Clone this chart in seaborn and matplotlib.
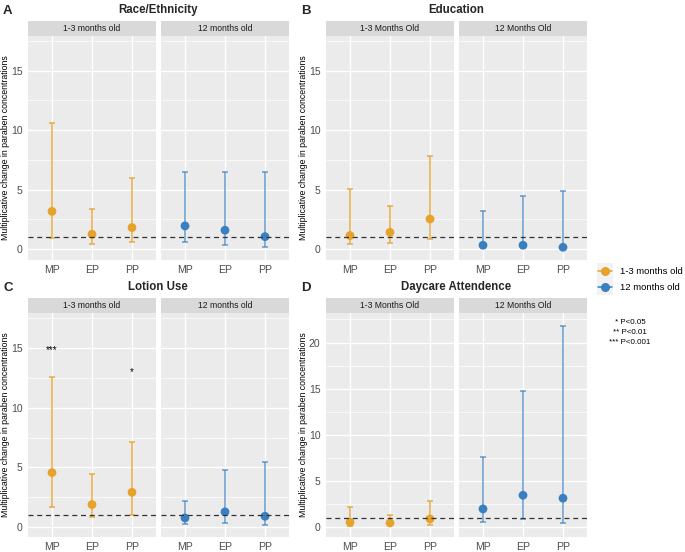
import numpy as np
import pandas as pd
import matplotlib
matplotlib.use("Agg")
import matplotlib.pyplot as plt
import seaborn as sns
from matplotlib.patches import Rectangle
from matplotlib.lines import Line2D

sns.set_theme(style="white")
plt.rcParams['font.family'] = ['Liberation Sans', 'DejaVu Sans']

# ---------------- data ----------------
categories = ["MP", "EP", "PP"]

# Race/Ethnicity
race_young_est = [3.18, 1.26, 1.82]
race_young_lo = [0.95, 0.45, 0.59]
race_young_hi = [10.6, 3.38, 5.95]
race_old_est = [1.96, 1.60, 1.06]
race_old_lo = [0.59, 0.36, 0.20]
race_old_hi = [6.50, 6.50, 6.45]

# Education
edu_young_est = [1.15, 1.42, 2.54]
edu_young_lo = [0.47, 0.53, 0.84]
edu_young_hi = [5.08, 3.66, 7.80]
edu_old_est = [0.34, 0.34, 0.17]
edu_old_lo = [0.10, 0.10, 0.03]
edu_old_hi = [3.21, 4.50, 4.92]

# Lotion use
lot_young_est = [4.55, 1.87, 2.90]
lot_young_lo = [1.68, 0.81, 1.03]
lot_young_hi = [12.54, 4.47, 7.09]
lot_old_est = [0.75, 1.26, 0.89]
lot_old_lo = [0.25, 0.31, 0.14]
lot_old_hi = [2.18, 4.80, 5.45]
lot_young_sig = ["***", "", "*"]
lot_young_sig_y = [14.8, 0, 13.0]

# Daycare attendance
day_young_est = [0.54, 0.47, 0.90]
day_young_lo = [0.14, 0.20, 0.25]
day_young_hi = [2.17, 1.34, 2.82]
day_old_est = [1.99, 3.47, 3.15]
day_old_lo = [0.54, 0.87, 0.43]
day_old_hi = [7.56, 14.8, 21.77]

age_labels = ["1-3 months old", "12 months old"]
facet_lower = ["1-3 months old", "12 months old"]
facet_upper = ["1-3 Months Old", "12 Months Old"]
pvalue_lines = ["* P<0.05", "** P<0.01", "*** P<0.001"]

ORANGE = "#E6A22B"
BLUE = "#3A80C0"
W, H = 685, 552

fig = plt.figure(figsize=(W / 100, H / 100), dpi=100)


def add_ax(x0, y0, x1, y1):
    return fig.add_axes([x0 / W, 1 - y1 / H, (x1 - x0) / W, (y1 - y0) / H])


def style_ax(ax, ylim, yticks, minor, show_y):
    ax.set_facecolor("#EBEBEB")
    ax.set_xlim(-0.6, 2.6)
    ax.set_ylim(*ylim)
    for s in ax.spines.values():
        s.set_visible(False)
    ax.set_yticks(yticks)
    ax.set_yticks(minor, minor=True)
    ax.grid(True, which="major", color="white", lw=1.0, zorder=0)
    ax.grid(True, which="minor", axis="y", color="white", lw=0.5, zorder=0)
    ax.set_axisbelow(True)
    ax.tick_params(axis="both", which="major", length=2.5, width=0.6,
                   color="#333333", labelcolor="#4D4D4D", pad=1.5)
    ax.tick_params(axis="x", labelsize=7.6, pad=0.8)
    ax.tick_params(axis="y", which="minor", length=0)
    ax.tick_params(axis="y", labelsize=7.5)
    if not show_y:
        ax.tick_params(axis="y", which="both", left=False, labelleft=False)
    ax.set_xlabel("")
    ax.set_ylabel("")


def draw_facet(ax, est, lo, hi, color, alpha):
    df = pd.DataFrame({"cat": categories, "est": est, "lo": lo, "hi": hi})
    xs = np.arange(len(categories))
    ax.errorbar(xs, df["est"], yerr=[df["est"] - df["lo"], df["hi"] - df["est"]],
                fmt="none", ecolor=color, elinewidth=1.2, capsize=2.2,
                capthick=1.2, alpha=alpha, zorder=3)
    sns.scatterplot(x=xs, y=df["est"].values, ax=ax, color=color, s=40,
                    edgecolor="none", zorder=4, legend=False)
    ax.axhline(1, color="#333333", lw=0.9, ls=(0, (4, 3)), zorder=5)
    ax.set_xticks(xs)
    ax.set_xticklabels(categories)


def strip(x0, x1, y0, y1, text):
    sax = add_ax(x0, y0, x1, y1)
    sax.set_facecolor("#D9D9D9")
    sax.set_xticks([]); sax.set_yticks([])
    for s in sax.spines.values():
        s.set_visible(False)
    sax.text(0.5, 0.5, text, ha="center", va="center", fontsize=6.2,
             color="#1A1A1A", transform=sax.transAxes)


def panel(xoff, ytop, letter, title, facet_names, young, old, ylim, yticks, minor,
          sig=None):
    fx = [(xoff + 28, xoff + 156), (xoff + 161, xoff + 289)]
    strip_y0, strip_y1 = ytop + 21, ytop + 36
    py0, py1 = ytop + 36, ytop + 260
    axes = []
    for i, ((x0, x1), data, color) in enumerate(zip(fx, [young, old], [ORANGE, BLUE])):
        ax = add_ax(x0, py0, x1, py1)
        draw_facet(ax, *data, color=color, alpha=0.8 if i == 0 else 0.7)
        style_ax(ax, ylim, yticks, minor, show_y=(i == 0))
        strip(x0, x1, strip_y0, strip_y1, facet_names[i])
        axes.append(ax)
    if sig is not None:
        labels, ys = sig
        for j, (lab, yy) in enumerate(zip(labels, ys)):
            if lab:
                axes[0].text(j, yy, lab, ha="center", va="center", fontsize=7,
                             color="black", zorder=6)
    fig.text((xoff + 3) / W, 1 - (ytop + 11) / H, letter, fontsize=9.5,
             fontweight="bold", ha="left", va="center")
    fig.text((xoff + 158) / W, 1 - (ytop + 10) / H, title, fontsize=8.3,
             fontweight="bold", ha="center", va="center")
    fig.text((xoff + 6) / W, 1 - ((py0 + py1) / 2) / H,
             "Multiplicative change in paraben concentrations", rotation=90,
             fontsize=6.3, ha="center", va="center", color="black")
    return axes


yt = [0, 5, 10, 15]
ym = [2.5, 7.5, 12.5, 17.5]
panel(0, 0, "A", "Race/Ethnicity", facet_lower,
      (race_young_est, race_young_lo, race_young_hi),
      (race_old_est, race_old_lo, race_old_hi), (-0.9, 17.9), yt, ym)
panel(298, 0, "B", "Education", facet_upper,
      (edu_young_est, edu_young_lo, edu_young_hi),
      (edu_old_est, edu_old_lo, edu_old_hi), (-0.9, 17.9), yt, ym)
panel(0, 277, "C", "Lotion Use", facet_lower,
      (lot_young_est, lot_young_lo, lot_young_hi),
      (lot_old_est, lot_old_lo, lot_old_hi), (-0.85, 17.95), yt, ym,
      sig=(lot_young_sig, lot_young_sig_y))
panel(298, 277, "D", "Daycare Attendence", facet_upper,
      (day_young_est, day_young_lo, day_young_hi),
      (day_old_est, day_old_lo, day_old_hi), (-1.05, 23.2),
      [0, 5, 10, 15, 20], [2.5, 7.5, 12.5, 17.5, 22.5])

# ---------------- legend ----------------
for k, (lab, col) in enumerate(zip(age_labels, [ORANGE, BLUE])):
    cy = 271 + 16 * k
    fig.patches.append(Rectangle(((597) / W, 1 - (cy + 8) / H), 16 / W, 16 / H,
                                 transform=fig.transFigure, facecolor="#F2F2F2",
                                 edgecolor="none"))
    fig.lines.append(Line2D([598 / W, 612 / W], [1 - cy / H, 1 - cy / H],
                            transform=fig.transFigure, color=col, lw=1.1))
    fig.lines.append(Line2D([605 / W], [1 - cy / H], transform=fig.transFigure,
                            color=col, marker="o", markersize=5.5, lw=0))
    fig.text(620 / W, 1 - cy / H, lab, fontsize=6.8, ha="left", va="center",
             color="black")

for k, txt in enumerate(pvalue_lines):
    fig.text(630 / W, 1 - (323 + 9.5 * k) / H, txt, fontsize=5.8, ha="center",
             va="center", color="black")

fig.savefig("out.png", dpi=100, facecolor="white")
